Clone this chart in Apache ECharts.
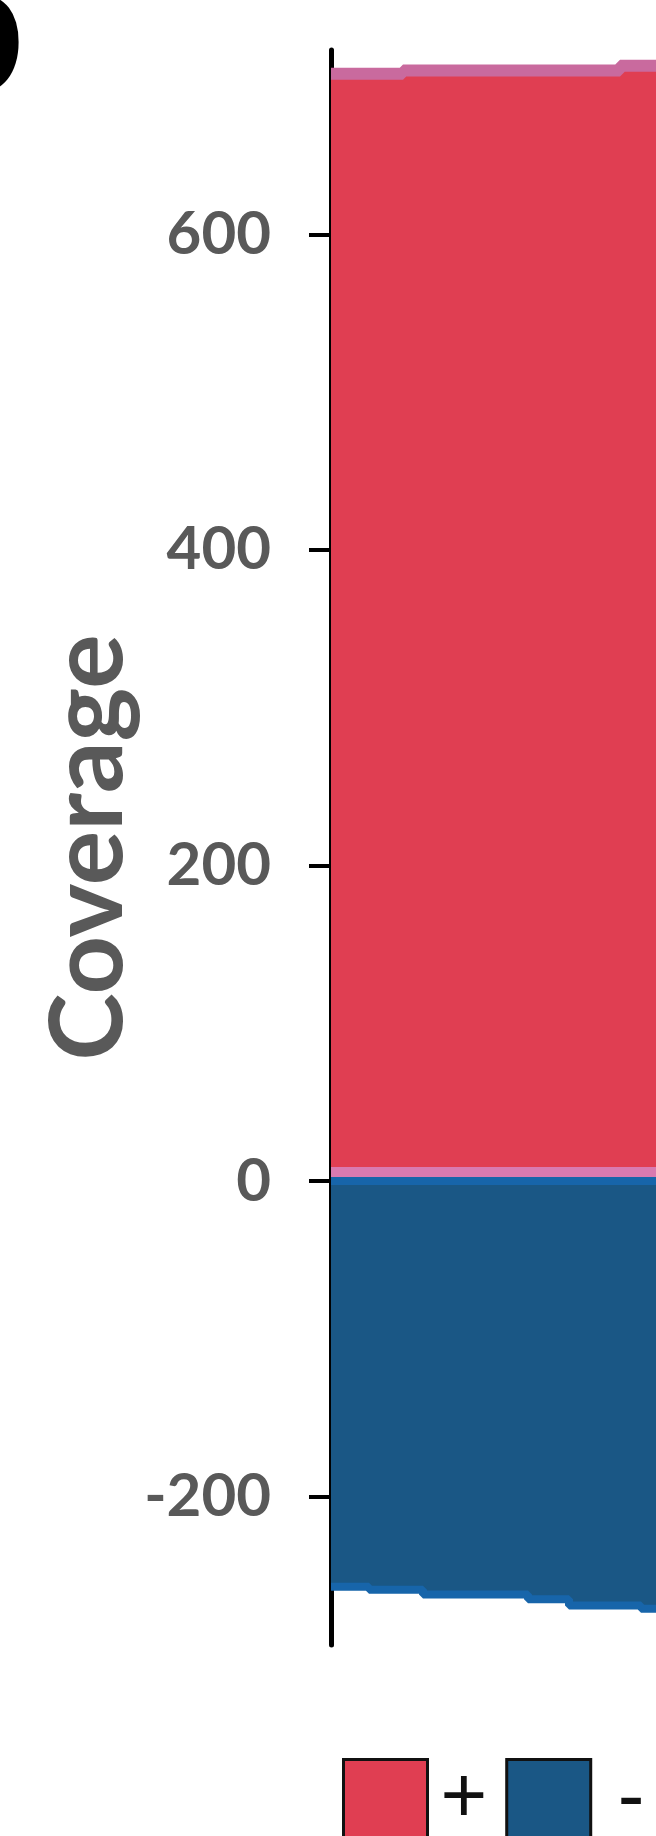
<!DOCTYPE html>
<html>
<head>
<meta charset="utf-8">
<script src="https://cdn.jsdelivr.net/npm/echarts@6/dist/echarts.min.js"></script>
<style>
  html, body { margin: 0; padding: 0; background: #ffffff; }
  #chart { width: 656px; height: 1836px; }
</style>
</head>
<body>
<div id="chart"></div>
<script>
// ---- data ----
const plusPos  = [0, 72, 289, 325];                 // step boundaries (position)
const plusCov  = [702, 704, 707, 707];              // + strand coverage
const minusPos = [0, 38, 92, 197, 238, 310, 325];
const minusCov = [-257, -259, -262, -265, -269, -271, -271]; // - strand coverage
const yTicks   = [-200, 0, 200, 400, 600];
const strandNames = ['+', '-'];
const panelLabel = 'b';

const RED = '#E03E52', PINK = '#C96A9E', PINK0 = '#D97AB0';
const BLUE = '#1A5785', BLUE_EDGE = '#1765AA';

const plusData = plusPos.map((p, i) => [p, plusCov[i]]);
const minusData = minusPos.map((p, i) => [p, minusCov[i]]);

const chart = echarts.init(document.getElementById('chart'), null, { renderer: 'canvas' });
chart.setOption({
  animation: false,
  backgroundColor: '#ffffff',
  grid: { left: 331, right: 0, top: 50, bottom: 191 },
  xAxis: { type: 'value', min: 0, max: 325, show: false },
  yAxis: {
    type: 'value', min: -294, max: 717, offset: 10,
    name: 'Coverage', nameLocation: 'middle', nameGap: 178, nameRotate: 90,
    nameTextStyle: { fontFamily: 'Lato', fontWeight: 'bold', fontSize: 102, color: '#595959' },
    axisLine: { show: true, lineStyle: { color: '#000', width: 5 } },
    axisTick: { show: true, length: 22, lineStyle: { color: '#000', width: 4 }, customValues: yTicks },
    axisLabel: { margin: 50, fontFamily: 'Lato', fontWeight: 'bold', fontSize: 60, color: '#595959', customValues: yTicks },
    splitLine: { show: false }
  },
  legend: {
    left: 337, top: 1753, orient: 'horizontal',
    itemWidth: 84, itemHeight: 80, itemGap: 18,
    textStyle: { fontFamily: 'Liberation Sans', fontSize: 80, color: '#111', padding: [0, 0, 0, 8] },
    data: [
      { name: strandNames[0], icon: 'rect', itemStyle: { color: RED, borderColor: '#111', borderWidth: 3 } },
      { name: strandNames[1], icon: 'rect', itemStyle: { color: BLUE, borderColor: '#111', borderWidth: 3 },
        textStyle: { fontFamily: 'Liberation Sans', fontSize: 80, color: '#111', padding: [0, 0, 0, 22] } }
    ]
  },
  graphic: [{
    type: 'text', left: -80, top: -60,
    style: { text: panelLabel, font: 'bold 185px Lato', fill: '#000' }
  }],
  series: [
    {
      name: strandNames[0], type: 'line', step: 'end', data: plusData, z: 2,
      symbol: 'none', color: RED,
      lineStyle: { color: PINK, width: 12 },
      areaStyle: { color: RED, opacity: 1 },
      markLine: {
        silent: true, symbol: 'none', z: 3, label: { show: false },
        lineStyle: { color: PINK0, width: 28, type: 'solid' },
        data: [{ yAxis: 0 }]
      }
    },
    {
      name: strandNames[1], type: 'line', step: 'end', data: minusData, z: 4,
      symbol: 'none', color: BLUE,
      lineStyle: { color: BLUE_EDGE, width: 8 },
      areaStyle: { color: BLUE, opacity: 1 },
      markLine: {
        silent: true, symbol: 'none', z: 5, label: { show: false },
        lineStyle: { color: BLUE_EDGE, width: 8, type: 'solid' },
        data: [{ yAxis: 0 }]
      }
    }
  ]
});
</script>
</body>
</html>
